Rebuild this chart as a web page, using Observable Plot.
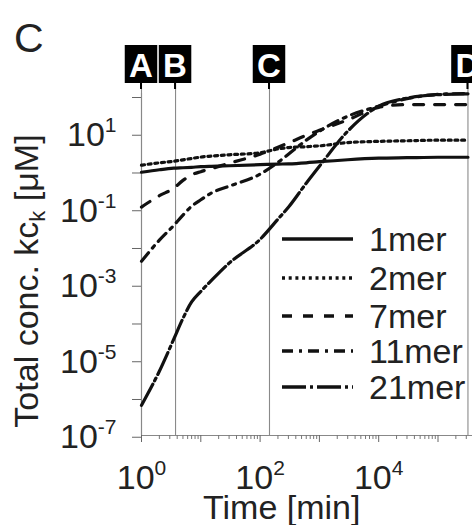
<!DOCTYPE html>
<html><head><meta charset="utf-8">
<script src="https://cdn.jsdelivr.net/npm/d3@7"></script>
<script src="https://cdn.jsdelivr.net/npm/@observablehq/plot@0.6"></script>
<style>html,body{margin:0;padding:0;background:#fff;overflow:hidden;} svg{display:block;}</style>
</head><body><div id="chart"></div>
<script>
// Time points (min)
const times = [1, 2, 3.5, 5, 7, 10, 15, 30, 100, 200, 300, 600, 1000, 3000, 1e4, 3e4, 1e5, 3.2e5];
// Total concentrations k*c_k (µM)
const mer1  = [0.82, 0.955, 1.05, 1.08, 1.11, 1.15, 1.18, 1.22, 1.30, 1.35, 1.37, 1.46, 1.56, 1.76, 1.93, 1.99, 2.05, 2.05];
const mer2  = [1.26, 1.46, 1.6, 1.75, 1.9, 2.07, 2.2, 2.38, 2.7, 3.4, 3.7, 3.9, 4.1, 5.0, 5.4, 5.6, 5.8, 5.8];
const mer7  = [0.098, 0.196, 0.31, 0.50, 0.70, 0.85, 1.02, 1.42, 2.46, 3.77, 4.9, 7.8, 10.6, 20, 43, 51, 51, 51];
const mer11 = [0.0036, 0.013, 0.032, 0.060, 0.103, 0.153, 0.23, 0.35, 0.73, 1.5, 2.46, 5.8, 10, 25, 46, 73, 95, 100];
const mer21 = [5.5e-7, 4.4e-6, 3.1e-5, 1.1e-4, 3.0e-4, 5.7e-4, 1.1e-3, 3.2e-3, 0.0137, 0.047, 0.097, 0.42, 1.18, 10, 46, 75, 93, 98];

const seriesNames = ["1mer", "2mer", "7mer", "11mer", "21mer"];
const seriesValues = [mer1, mer2, mer7, mer11, mer21];
const seriesDash = ["none", "3 3.7", "10 11", "11 6 3 6", "24 4 3 4"];

const markerTimes = [1, 3.75, 144, 3.2e5];
const markerLabels = ["A", "B", "C", "D"];

const yTickValues = [1e2, 1e1, 1e0, 1e-1, 1e-2, 1e-3, 1e-4, 1e-5, 1e-6, 1e-7];
const yTickLabels = ["", "10^1", "", "10^-1", "", "10^-3", "", "10^-5", "", "10^-7"];
const xTickValues = [1, 10, 100, 1e3, 1e4, 1e5];
const xTickLabels = ["10^0", "", "10^2", "", "10^4", ""];
const xMinorTicks = [];
xTickValues.forEach(d => { for (let k = 2; k <= 9; k++) if (d * k < 3.8e5) xMinorTicks.push(d * k); });

const xDomain = [1, Math.pow(10, 331 / 59.3)];
const yDomain = [Math.pow(10, -7.06), 100];

const rows = [];
seriesNames.forEach((s, j) => times.forEach((t, i) => rows.push({series: s, t, c: seriesValues[j][i]})));

const yLab = new Map(yTickValues.map((v, i) => [v, yTickLabels[i]]));
const xLab = new Map(xTickValues.map((v, i) => [v, xTickLabels[i]]));

const font = "'Liberation Sans', Arial, sans-serif";

const plot = Plot.plot({
  width: 472, height: 525,
  marginLeft: 141, marginRight: 0, marginTop: 93, marginBottom: 90,
  style: {fontFamily: font, fontSize: "34px", background: "#fff", color: "#222"},
  x: {type: "log", domain: xDomain},
  y: {type: "log", domain: yDomain},
  marks: [
    Plot.ruleX(markerTimes, {x: d => d, stroke: "#8a8a8a", strokeWidth: 1.1, insetTop: -10}),
    Plot.ruleX([xDomain[0]], {stroke: "#888", strokeWidth: 1.1}),
    Plot.ruleY([yDomain[0]], {stroke: "#888", strokeWidth: 1.1}),
    Plot.axisY({ticks: yTickValues, tickFormat: d => yLab.get(d) || "", tickSize: 9, tickPadding: 16, dy: 4,
      stroke: "#666", fill: "#222", fontSize: 34, label: null}),
    Plot.axisX({ticks: xMinorTicks, tickFormat: () => "", tickSize: 4, stroke: "#777", label: null}),
    Plot.axisX({ticks: xTickValues, tickFormat: d => xLab.get(d) || "", tickSize: 7, tickPadding: 22,
      stroke: "#666", fill: "#222", fontSize: 34, label: null}),
    ...seriesNames.map((s, j) => Plot.line(rows.filter(r => r.series === s), {
      x: "t", y: "c", stroke: "#111", strokeWidth: 3.2, strokeDasharray: seriesDash[j],
      curve: "monotone-x"
    }))
  ]
});

const svg = d3.select(plot);
// superscripts in tick labels
svg.selectAll("text").each(function() {
  const m = /^10\^(-?\d+)$/.exec(this.textContent);
  if (!m) return;
  const t = d3.select(this);
  t.text(null);
  t.append("tspan").text("10");
  t.append("tspan").attr("dy", -14).attr("font-size", 21).text(m[1]);
});

const xs = plot.scale("x");
// marker boxes
markerTimes.forEach((t, i) => {
  const px = xs.apply(t);
  svg.append("rect").attr("x", px - 16.25).attr("y", 45).attr("width", 32.5).attr("height", 38).attr("fill", "#000");
  svg.append("line").attr("x1", px).attr("x2", px).attr("y1", 83).attr("y2", 89).attr("stroke", "#000").attr("stroke-width", 2);
  svg.append("text").attr("x", px).attr("y", 77).attr("text-anchor", "middle")
    .attr("font-family", font).attr("font-weight", "bold").attr("font-size", 33).attr("fill", "#fff").text(markerLabels[i]);
});

// panel letter
svg.append("text").attr("x", 14).attr("y", 52).attr("text-anchor", "start").attr("font-family", font)
  .attr("font-size", 41).attr("fill", "#222").text("C");

// axis titles
svg.append("text").attr("x", 203).attr("y", 519).attr("text-anchor", "start").attr("font-family", font)
  .attr("font-size", 34).attr("fill", "#222").text("Time [min]");
const yt = svg.append("text").attr("transform", "translate(38,281) rotate(-90)").attr("text-anchor", "middle")
  .attr("font-family", font).attr("font-size", 34).attr("fill", "#222");
yt.append("tspan").text("Total conc. kc");
yt.append("tspan").attr("font-size", 22).attr("dy", 7).text("k");
yt.append("tspan").attr("dy", -7).text(" [\u03bcM]");

// legend
const legendY = [239, 278, 316, 351, 387];
seriesNames.forEach((s, j) => {
  svg.append("line").attr("x1", 282).attr("x2", 353).attr("y1", legendY[j]).attr("y2", legendY[j])
    .attr("stroke", "#111").attr("stroke-width", 3.4).attr("stroke-dasharray", seriesDash[j]);
  svg.append("text").attr("x", 369).attr("y", legendY[j] + 12).attr("text-anchor", "start").attr("font-family", font)
    .attr("font-size", 34).attr("fill", "#222").text(s);
});

document.getElementById("chart").appendChild(plot);
</script>
</body></html>
